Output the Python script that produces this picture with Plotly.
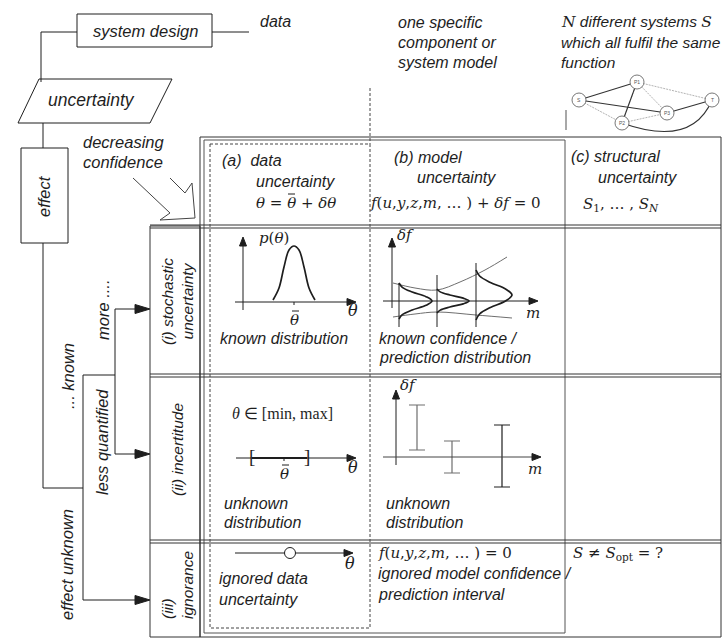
import math
import plotly.graph_objects as go

W, H = 728, 641
INK = "#1e1e1e"
GREY = "#6e6e6e"
LGREY = "#a0a0a0"
SANS = "Liberation Sans, Arial, sans-serif"
SERIF = "Liberation Serif, Times New Roman, serif"
MATH = "DejaVu Serif, Liberation Serif, serif"

# ---------------- flow chart (left / top) ----------------
system_design_box = [77, 14, 212, 47]
effect_box = [21, 148, 68, 243]
uncertainty_para = [(39, 79), (172, 79), (150, 123), (18, 123)]
connectors = [
    [(41, 82), (41, 32), (77, 32)],
    [(212, 32), (249, 32)],
    [(43, 123), (43, 148)],
    [(43, 243), (43, 488), (83, 488)],
    [(83, 375), (83, 600)],
    [(83, 375), (115, 375)],
    [(115, 309), (115, 454)],
]
flow_arrow_y = [309, 454, 600]
flow_arrow_x0 = [115, 115, 83]
flow_arrow_tip = 150
confidence_arrow = [(133, 178), (170, 213), (160, 220), (195, 218), (192, 183), (185, 193), (170, 178)]

# ---------------- table ----------------
table_outer = [200, 137, 721, 637]
table_inner = [204, 140, 565, 633]
label_col = [150, 226, 200, 637]
row_lines = [225, 228, 374, 377, 540, 543]
dashed_box = [210, 144, 370, 628]
dashed_ext = [370, 88, 144]
small_tick = [566, 110, 130]

# ---------------- network icon ----------------
node_names = ["S", "P1", "P2", "P3", "T"]
node_x = [579, 637, 622, 667, 712]
node_y = [100, 82, 123, 113, 100]
node_r = 7
solid_edges = [("S", "P1"), ("S", "P3"), ("P1", "P2"), ("P3", "T")]
dotted_edges = [("S", "P2"), ("P1", "T"), ("P1", "P3"), ("P2", "P3"), ("P2", "P1")]

# ---------------- row 1 (a): known distribution ----------------
a1_theta = [273, 279, 284, 289, 294, 299, 304, 309, 315]
a1_p = [300, 288, 267, 250, 246, 250, 267, 288, 300]
a1_axes = dict(x=243, y=302, x0=235, x1=356, ytop=237, ybot=310)
a1_mean = 294

# ---------------- row 1 (b): known confidence / prediction distribution ----------------
b1_axes = dict(x=392, y=301, x0=383, x1=538, ytop=238, ybot=308)
b1_m = [399, 437, 476]
b1_line_top = [283, 275, 263]
b1_line_bot = 327
b1_curve_top = [283, 289, 270]
b1_curve_bot = [319, 313, 320]
b1_curve_peak = [432, 469, 512]
bell_t = [0, 0.12, 0.25, 0.38, 0.5, 0.62, 0.75, 0.88, 1]
bell_a = [0, 0.1, 0.4, 0.82, 1, 0.82, 0.4, 0.1, 0]
band_up_x = [393, 415, 437, 460, 485, 507]
band_up_y = [283, 288, 290, 282, 270, 257]
band_lo_x = [393, 415, 437, 476, 512]
band_lo_y = [317, 314, 312, 315, 318]

# ---------------- row 2 (a): interval ----------------
a2_axis = dict(y=458, x0=236, x1=356)
a2_interval = [252, 307]
a2_mean = 284

# ---------------- row 2 (b): error bars ----------------
b2_axes = dict(x=396, y=457, x0=383, x1=541, ytop=390, ybot=465)
eb_m = [417, 452, 502]
eb_lo = [405, 441, 425]
eb_hi = [450, 473, 487]
eb_col = [GREY, GREY, INK]

# ---------------- row 3 (a): ignored ----------------
a3_axis = dict(y=553, x0=235, x1=353)
a3_point = 290

# macron bars of the mean symbol θ̄ (x0, x1, y)
theta_bars = [(288, 295, 194), (292, 299, 311), (282, 289, 465)]

shapes = []
annotations = []
traces = []


def line(x0, y0, x1, y1, color=INK, width=1, dash=None):
    d = dict(type="line", xref="x", yref="y", x0=x0, y0=y0, x1=x1, y1=y1,
             line=dict(color=color, width=width))
    if dash:
        d["line"]["dash"] = dash
    shapes.append(d)


def rect(b, color=INK, width=1, dash=None, fill=None):
    d = dict(type="rect", xref="x", yref="y", x0=b[0], y0=b[1], x1=b[2], y1=b[3],
             line=dict(color=color, width=width))
    if dash:
        d["line"]["dash"] = dash
    if fill:
        d["fillcolor"] = fill
    shapes.append(d)


def path(pts, closed=False, color=INK, width=1, fill=None):
    s = "M " + " L ".join(f"{x},{y}" for x, y in pts)
    if closed:
        s += " Z"
    d = dict(type="path", xref="x", yref="y", path=s, line=dict(color=color, width=width))
    if fill:
        d["fillcolor"] = fill
    shapes.append(d)


def head(tx, ty, dx, dy, length=9, half=3.5, color=INK):
    n = math.hypot(dx, dy)
    dx, dy = dx / n, dy / n
    bx, by = tx - dx * length, ty - dy * length
    px, py = -dy, dx
    path([(tx, ty), (bx + px * half, by + py * half), (bx - px * half, by - py * half)],
         closed=True, color=color, width=1, fill=color)


def text(x, y, s, size=16, family=SANS, xanchor="left", angle=0, align="left", color=INK, style="italic"):
    annotations.append(dict(x=x, y=y, xref="x", yref="y", text=s, showarrow=False,
                            xanchor=xanchor, yanchor="middle", textangle=angle, align=align,
                            font=dict(family=family, size=size, color=color, style=style)))


def math_text(x, y, s, size=15, family=MATH, xanchor="left"):
    text(x, y, s, size=size, family=family, xanchor=xanchor, style="normal")


def curve(xs, ys, color=INK, width=1.7):
    traces.append(go.Scatter(x=xs, y=ys, mode="lines", line=dict(color=color, width=width, shape="spline"),
                             hoverinfo="skip"))


# ---- flow chart
rect(system_design_box)
rect(effect_box)
path(uncertainty_para, closed=True)
for c in connectors:
    path(c)
for y, x0 in zip(flow_arrow_y, flow_arrow_x0):
    line(x0, y, flow_arrow_tip - 12, y)
    head(flow_arrow_tip, y, 1, 0, length=15, half=4.5)
path(confidence_arrow, color="#444444", width=1)

# ---- table
rect(table_outer, color="#333333")
rect(table_inner, color="#555555")
rect(label_col, color="#333333")
for y in row_lines:
    line(label_col[0], y, table_outer[2], y, color="#333333")
rect(dashed_box, color="#444444", dash="3px,2px")
line(dashed_ext[0], dashed_ext[1], dashed_ext[0], dashed_ext[2], color="#444444", dash="3px,2px")
line(small_tick[0], small_tick[1], small_tick[0], small_tick[2], color=GREY, width=1.2)

# ---- network icon
pos = {n: (x, y) for n, x, y in zip(node_names, node_x, node_y)}
for a, b in dotted_edges:
    line(*pos[a], *pos[b], color=LGREY, width=0.8, dash="2px,1px")
for a, b in solid_edges:
    line(*pos[a], *pos[b], color="#333333", width=1.1)
p2, t = pos["P2"], pos["T"]
shapes.append(dict(type="path", xref="x", yref="y",
                   path=f"M {p2[0]},{p2[1]} Q {(p2[0] + t[0]) / 2 + 25},{p2[1] + 25} {t[0]},{t[1]}",
                   line=dict(color="#333333", width=1.1)))
for n in node_names:
    x, y = pos[n]
    shapes.append(dict(type="circle", xref="x", yref="y", x0=x - node_r, x1=x + node_r,
                       y0=y - node_r, y1=y + node_r, line=dict(color="#555555", width=0.8),
                       fillcolor="white"))
    text(x, y, n, size=5, xanchor="center", color="#555555", style="normal")

# ---- row 1 (a)
line(a1_axes["x"], a1_axes["ybot"], a1_axes["x"], a1_axes["ytop"] + 6)
head(a1_axes["x"], a1_axes["ytop"], 0, -1)
line(a1_axes["x0"], a1_axes["y"], a1_axes["x1"] - 6, a1_axes["y"])
head(a1_axes["x1"], a1_axes["y"], 1, 0)
curve(a1_theta, a1_p)
line(a1_mean, a1_axes["y"], a1_mean, a1_axes["y"] + 6, dash="dot")

# ---- row 1 (b)
line(b1_axes["x"], b1_axes["ybot"], b1_axes["x"], b1_axes["ytop"] + 6)
head(b1_axes["x"], b1_axes["ytop"], 0, -1)
line(b1_axes["x0"], b1_axes["y"], b1_axes["x1"] - 6, b1_axes["y"])
head(b1_axes["x1"], b1_axes["y"], 1, 0)
for m, top in zip(b1_m, b1_line_top):
    line(m, top, m, b1_line_bot)
curve(band_up_x, band_up_y, color=GREY, width=1)
curve(band_lo_x, band_lo_y, color=GREY, width=1)
for m, ct, cb, pk in zip(b1_m, b1_curve_top, b1_curve_bot, b1_curve_peak):
    xs = [m + a * (pk - m) for a in bell_a]
    ys = [ct + tt * (cb - ct) for tt in bell_t]
    curve(xs, ys)

# ---- row 2 (a)
line(a2_axis["x0"], a2_axis["y"], a2_axis["x1"] - 6, a2_axis["y"])
head(a2_axis["x1"], a2_axis["y"], 1, 0)
line(a2_interval[0], a2_axis["y"], a2_interval[1], a2_axis["y"], width=2.2)
line(a2_mean, a2_axis["y"], a2_mean, a2_axis["y"] + 5, dash="dot")

# ---- row 2 (b)
line(b2_axes["x"], b2_axes["ybot"], b2_axes["x"], b2_axes["ytop"] + 6)
head(b2_axes["x"], b2_axes["ytop"], 0, -1)
line(b2_axes["x0"], b2_axes["y"], b2_axes["x1"] - 6, b2_axes["y"], color="#444444")
head(b2_axes["x1"], b2_axes["y"], 1, 0)
for m, lo, hi, col in zip(eb_m, eb_lo, eb_hi, eb_col):
    mid = (lo + hi) / 2
    traces.append(go.Scatter(x=[m], y=[mid], mode="markers", marker=dict(size=1, opacity=0),
                             error_y=dict(type="data", symmetric=True, array=[(hi - lo) / 2],
                                          width=8, thickness=1.2, color=col),
                             hoverinfo="skip"))

# ---- row 3 (a)
line(a3_axis["x0"], a3_axis["y"], a3_axis["x1"] - 6, a3_axis["y"])
head(a3_axis["x1"], a3_axis["y"], 1, 0)
shapes.append(dict(type="circle", xref="x", yref="y", x0=a3_point - 5.5, x1=a3_point + 5.5,
                   y0=a3_axis["y"] - 5.5, y1=a3_axis["y"] + 5.5, line=dict(color=INK, width=1),
                   fillcolor="white"))

# ---- macron bars of θ̄
for bx0, bx1, by in theta_bars:
    line(bx0, by, bx1, by, width=1)

# ---------------- texts ----------------
text(145, 31, "system design", size=16.5, xanchor="center")
text(258, 21, "data", size=16)
text(396, 22, "one specific", size=16)
text(396, 42, "component or", size=16)
text(396, 62, "system model", size=16)
text(559, 22, f"<span style='font-family:{MATH}'>N</span> different systems "
              f"<span style='font-family:{MATH}'>S</span>", size=15.5)
text(559, 42, "which all fulfil the same", size=15.5)
text(559, 62, "function", size=15.5)
text(91, 100, "uncertainty", size=17.5, xanchor="center")
text(44, 196, "effect", size=16.5, xanchor="center", angle=-90)
text(81, 142, "decreasing", size=16.5)
text(81, 162, "confidence", size=16.5)

text(68, 376, "... known", size=16.5, xanchor="center", angle=-90)
text(103, 310, "more ....", size=16.5, xanchor="center", angle=-90)
text(102, 442, "less quantified", size=16.5, xanchor="center", angle=-90)
text(67, 565, "effect unknown", size=16.5, xanchor="center", angle=-90)

text(177, 302, "(i) stochastic<br>uncertainty", size=15.5, xanchor="center", angle=-90, align="center")
text(177, 450, "(ii) incertitude", size=15.5, xanchor="center", angle=-90)
text(177, 585, "(iii)<br>ignorance", size=15.5, xanchor="center", angle=-90, align="left")

text(220, 160, "(a)  data", size=16)
text(254, 181, "uncertainty", size=16)
math_text(254, 203, "<i>θ</i> = <i>θ</i> + <i>δθ</i>")
text(392, 157, "(b) model", size=16)
text(415, 177, "uncertainty", size=16)
math_text(368, 203, "<i>f</i>(<i>u</i>,<i>y</i>,<i>z</i>,<i>m</i>, … ) + <i>δf</i> = 0")
text(569, 156, "(c) structural", size=16)
text(596, 177, "uncertainty", size=16)
math_text(581, 204, "<i>S</i><sub>1</sub>, … , <i>S<sub>N</sub></i>")

math_text(257, 238, "<i>p</i>(<i>θ</i>)")
math_text(294, 320, "<i>θ</i>", xanchor="center")
math_text(353, 310, "<i>θ</i>", size=16, xanchor="center")
text(218, 338, "known distribution", size=16)
math_text(395, 235, "<i>δf</i>")
math_text(533, 313, "<i>m</i>", xanchor="center")
text(377, 338, "known confidence /", size=16)
text(377, 357, "prediction distribution", size=16)

math_text(230, 413, "<i>θ</i> ∈ [min, max]", size=16, family=SERIF)
math_text(a2_interval[0], 456, "[", size=19, family=SERIF, xanchor="center")
math_text(a2_interval[1], 456, "]", size=19, family=SERIF, xanchor="center")
math_text(284, 474, "<i>θ</i>", xanchor="center")
math_text(353, 467, "<i>θ</i>", size=16, xanchor="center")
text(222, 503, "unknown", size=16)
text(222, 522, "distribution", size=16)
math_text(398, 385, "<i>δf</i>")
math_text(535, 469, "<i>m</i>", xanchor="center")
text(384, 503, "unknown", size=16)
text(384, 522, "distribution", size=16)

math_text(350, 563, "<i>θ</i>", size=16, xanchor="center")
text(217, 578, "ignored data", size=16)
text(217, 599, "uncertainty", size=16)
math_text(376, 553, "<i>f</i>(<i>u</i>,<i>y</i>,<i>z</i>,<i>m</i>, … ) = 0")
text(376, 573, "ignored model confidence /", size=16)
text(376, 594, "prediction interval", size=16)
math_text(571, 553, "<i>S</i> ≠ <i>S</i><sub>opt</sub> = ?")

fig = go.Figure(data=traces)
fig.update_layout(
    width=W, height=H, margin=dict(l=0, r=0, t=0, b=0), autosize=False,
    paper_bgcolor="white", plot_bgcolor="white", showlegend=False,
    xaxis=dict(range=[0, W], visible=False, fixedrange=True),
    yaxis=dict(range=[H, 0], visible=False, fixedrange=True),
    shapes=shapes, annotations=annotations,
)
fig.write_html("out.html", config={"displayModeBar": False})
